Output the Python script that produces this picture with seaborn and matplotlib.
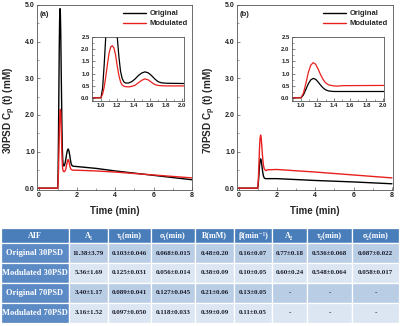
import matplotlib
matplotlib.use("Agg")
import matplotlib.pyplot as plt
import seaborn as sns
import pandas as pd
from matplotlib.ticker import AutoMinorLocator, FormatStrFormatter, MultipleLocator

# ---------------- data ----------------
t30 = [0, 1.00, 1.02, 1.04, 1.06, 1.08, 1.10, 1.12, 1.14, 1.16, 1.18, 1.20, 1.22, 1.24,
       1.26, 1.28, 1.30, 1.34, 1.38, 1.42, 1.46, 1.50, 1.54, 1.58, 1.62, 1.66, 1.70,
       1.74, 1.80, 2.0, 3, 4, 5, 6, 7, 8]
c30_original = [0, 0, 0.4, 1.4, 2.6, 3.8, 4.6, 4.9, 4.75, 4.2, 3.3, 2.5, 1.7, 1.1,
                0.8, 0.66, 0.61, 0.61, 0.67, 0.78, 0.92, 1.02, 1.07, 1.03, 0.92, 0.78, 0.67,
                0.62, 0.60, 0.59, 0.54, 0.47, 0.41, 0.35, 0.29, 0.23]
c30_modulated = [0, 0, 0.15, 0.45, 0.9, 1.4, 1.85, 2.1, 2.15, 2.05, 1.75, 1.3, 0.92, 0.66,
                 0.53, 0.48, 0.46, 0.45, 0.47, 0.52, 0.62, 0.72, 0.78, 0.74, 0.64, 0.55, 0.51,
                 0.50, 0.49, 0.49, 0.47, 0.44, 0.40, 0.36, 0.32, 0.28]

t70 = [0, 1.00, 1.03, 1.06, 1.09, 1.12, 1.15, 1.18, 1.21, 1.24, 1.27, 1.30, 1.34, 1.40,
       1.45, 1.50, 2.0, 4, 6, 8]
c70_original = [0, 0, 0.12, 0.35, 0.58, 0.74, 0.80, 0.76, 0.65, 0.52, 0.41, 0.33, 0.28, 0.26,
                0.26, 0.26, 0.26, 0.21, 0.17, 0.12]
c70_modulated = [0, 0, 0.2, 0.6, 1.05, 1.35, 1.45, 1.38, 1.18, 0.95, 0.76, 0.62, 0.53, 0.49,
                 0.48, 0.50, 0.51, 0.44, 0.36, 0.28]

series_names = ["Original", "Modulated"]
series_colors = ["#000000", "#e8201e"]

table_columns = ["AIF", "A\u2081", "\u03c4\u2081(min)", "\u03c3\u2081(min)", "B(mM)",
                 "\u03b2(min\u207b\u00b9)", "A\u2082", "\u03c4\u2082(min)", "\u03c3\u2082(min)"]
row_names = ["Original 30PSD", "Modulated 30PSD", "Original 70PSD", "Modulated 70PSD"]
col_A1 = ["11.38\u00b13.79", "5.36\u00b11.69", "3.40\u00b11.17", "3.16\u00b11.52"]
col_tau1 = ["0.103\u00b10.046", "0.125\u00b10.031", "0.089\u00b10.041", "0.097\u00b10.050"]
col_sig1 = ["0.068\u00b10.015", "0.056\u00b10.014", "0.127\u00b10.045", "0.118\u00b10.033"]
col_B = ["0.48\u00b10.20", "0.38\u00b10.09", "0.21\u00b10.06", "0.39\u00b10.09"]
col_beta = ["0.16\u00b10.07", "0.10\u00b10.05", "0.13\u00b10.05", "0.11\u00b10.05"]
col_A2 = ["0.77\u00b10.18", "0.60\u00b10.24", "-", "-"]
col_tau2 = ["0.536\u00b10.068", "0.548\u00b10.064", "-", "-"]
col_sig2 = ["0.087\u00b10.022", "0.058\u00b10.017", "-", "-"]

# ---------------- style ----------------
sns.set_style("ticks")
plt.rcParams['font.family'] = ['Liberation Sans', 'DejaVu Sans']
plt.rcParams['font.weight'] = 'bold'
plt.rcParams['mathtext.fontset'] = 'custom'
plt.rcParams['mathtext.bf'] = 'Liberation Sans:bold'
plt.rcParams['mathtext.rm'] = 'Liberation Sans:bold'
plt.rcParams['mathtext.it'] = 'Liberation Sans:bold'
plt.rcParams['mathtext.default'] = 'bf'

W, H = 400, 326
fig = plt.figure(figsize=(W / 100, H / 100), dpi=100)


def frac(x0, y0, x1, y1):
    return [x0 / W, 1 - y1 / H, (x1 - x0) / W, (y1 - y0) / H]


SPINE = "#555555"


def style_axes(ax, labelsize, major=2.5, minor=1.5):
    for s in ax.spines.values():
        s.set_color(SPINE)
        s.set_linewidth(0.6)
    ax.tick_params(which='major', direction='in', length=major, width=0.5,
                   labelsize=labelsize, pad=1.5, colors=SPINE, labelcolor='#222222')
    ax.tick_params(which='minor', direction='in', length=minor, width=0.4, colors=SPINE)
    for lab in ax.get_xticklabels() + ax.get_yticklabels():
        lab.set_fontweight('bold')


def panel(px, t, orig, mod, ylabel, tag, inset_px):
    ax = fig.add_axes(frac(px, 5, px + 155.5, 190))
    df = pd.DataFrame({"t": t + t, "c": orig + mod,
                       "s": [series_names[0]] * len(t) + [series_names[1]] * len(t)})
    for name, col in zip(series_names, series_colors):
        d = df[df.s == name]
        sns.lineplot(data=d, x="t", y="c", ax=ax, color=col, lw=1.0,
                     estimator=None, sort=False, label=name)
    ax.set_xlim(-0.08, 8.03)
    ax.set_ylim(-0.05, 5.0)
    ax.xaxis.set_major_locator(MultipleLocator(2))
    ax.xaxis.set_minor_locator(AutoMinorLocator(2))
    ax.yaxis.set_major_locator(MultipleLocator(1))
    ax.yaxis.set_minor_locator(AutoMinorLocator(2))
    ax.yaxis.set_major_formatter(FormatStrFormatter('%.1f'))
    style_axes(ax, 5)
    ax.set_xlabel("Time (min)", fontsize=7, fontweight='bold')
    ax.xaxis.label.set_va('center')
    ax.xaxis.set_label_coords(0.5, -0.114)
    ax.set_ylabel(ylabel, fontsize=7.2, fontweight='bold')
    ax.yaxis.label.set_va('center')
    ax.yaxis.set_label_coords(-0.175, 0.43)
    ax.text(0.02, 0.946, tag, transform=ax.transAxes, fontsize=5.5,
            fontweight='bold', va='center', ha='left')
    leg = ax.legend(loc='upper right', frameon=False, fontsize=5.5, handlelength=3.0,
                    borderaxespad=0.25, labelspacing=0.35, handletextpad=0.4)
    for txt in leg.get_texts():
        txt.set_fontweight('bold')

    axi = fig.add_axes(frac(*inset_px))
    for name, col in zip(series_names, series_colors):
        d = df[df.s == name]
        sns.lineplot(data=d, x="t", y="c", ax=axi, color=col, lw=0.9,
                     estimator=None, sort=False, legend=False)
    axi.set_xlim(0.886, 2.02)
    axi.set_ylim(-0.12, 2.52)
    axi.xaxis.set_major_locator(MultipleLocator(0.2))
    axi.xaxis.set_major_formatter(FormatStrFormatter('%.1f'))
    axi.yaxis.set_major_locator(MultipleLocator(0.5))
    axi.yaxis.set_major_formatter(FormatStrFormatter('%.1f'))
    axi.xaxis.set_minor_locator(AutoMinorLocator(2))
    axi.yaxis.set_minor_locator(AutoMinorLocator(2))
    style_axes(axi, 4.3, major=2, minor=1.2)
    axi.set_xlabel("")
    axi.set_ylabel("")
    return ax


panel(37, t30, c30_original, c30_modulated, "30PSD C$_p$ (t) (mM)", "(a)",
      (91.7, 36.7, 184, 100.7))
panel(237, t70, c70_original, c70_modulated, "70PSD C$_p$ (t) (mM)", "(b)",
      (291.7, 36.7, 384.3, 100.7))

# ---------------- table ----------------
axt = fig.add_axes(frac(1, 228, 399, 323))
axt.axis('off')
cell_text = [list(r) for r in zip(row_names, col_A1, col_tau1, col_sig1, col_B, col_beta,
                                  col_A2, col_tau2, col_sig2)]
bounds = [0, 68, 107, 150, 194, 233, 271, 306, 351, 398]
widths = [(bounds[i + 1] - bounds[i]) / 398 for i in range(len(bounds) - 1)]
tbl = axt.table(cellText=cell_text, colLabels=table_columns, colWidths=widths,
                bbox=[0, 0, 1, 1], cellLoc='center')
tbl.auto_set_font_size(False)
HEADER = "#4a7ebb"
FIRST = "#5b8ac4"
ROW_A = "#b9cde5"
ROW_B = "#dce6f2"
for (r, c), cell in tbl.get_celld().items():
    cell.set_edgecolor("white")
    cell.set_linewidth(0.9)
    cell.PAD = 0.02
    txt = cell.get_text()
    txt.set_fontfamily(['Liberation Serif', 'DejaVu Serif'])
    txt.set_fontweight('bold')
    if r == 0:
        cell.set_height(15 / 95)
        cell.set_facecolor(HEADER)
        txt.set_color("white")
        txt.set_fontsize(5.8)
    else:
        cell.set_height(20 / 95)
        if c == 0:
            cell.set_facecolor(FIRST)
            txt.set_color("white")
            txt.set_fontsize(6.0)
        else:
            cell.set_facecolor(ROW_A if r % 2 == 1 else ROW_B)
            txt.set_color("#1a1a2a")
            txt.set_fontsize(5.0)

fig.savefig("out.png", dpi=100)
